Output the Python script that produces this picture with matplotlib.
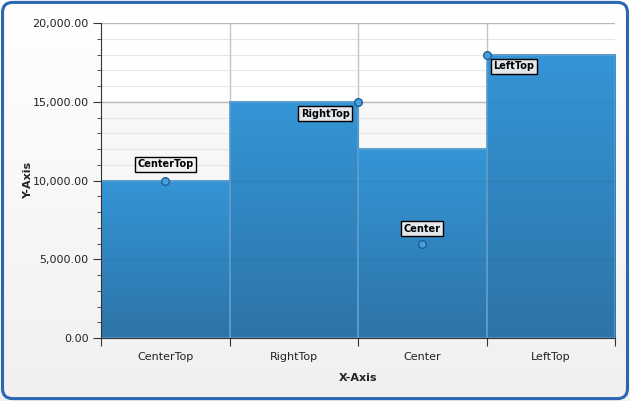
import matplotlib
matplotlib.use("Agg")
import matplotlib.pyplot as plt
import numpy as np
from matplotlib.patches import FancyBboxPatch, Rectangle
from matplotlib.ticker import FuncFormatter, MultipleLocator

categories = ["CenterTop", "RightTop", "Center", "LeftTop"]
values = [10000, 15000, 12000, 18000]
point_x_offsets = [0.5, 1.0, 0.5, 0.0]   # position of marker within each step
point_values = [10000, 15000, 6000, 18000]
point_labels = ["CenterTop", "RightTop", "Center", "LeftTop"]

plt.rcParams['font.family'] = ['DejaVu Sans']
fig = plt.figure(figsize=(6.3, 4.01), dpi=100)

# figure background gradient + rounded border
bg = fig.add_axes([0, 0, 1, 1], zorder=-10)
bg.set_axis_off()
grad = np.linspace(1, 0, 256).reshape(-1, 1)
bg.imshow(grad, extent=[0, 1, 0, 1], aspect='auto', cmap=matplotlib.colors.LinearSegmentedColormap.from_list('g', ['#f0f0f0', '#ffffff']), vmin=0, vmax=1)
bg.set_xlim(0, 1); bg.set_ylim(0, 1)
border = FancyBboxPatch((0.004, 0.006), 0.992, 0.988, boxstyle="round,pad=0,rounding_size=0.016",
                        transform=bg.transAxes, facecolor='none', edgecolor='#2a66b2', linewidth=2.2,
                        mutation_aspect=630/401)
bg.add_patch(border)

ax = fig.add_axes([101/630, 1 - 338/401, (615 - 101)/630, (338 - 23)/401])
ax.set_facecolor('white')
ax.set_xlim(0, len(categories))
ax.set_ylim(0, 20000)

# alternating band
ax.axhspan(10000, 15000, color='#f7f7f7', zorder=0)
ax.axhspan(0, 5000, color='#f7f7f7', zorder=0)
# minor grid
for y in range(1000, 20000, 1000):
    if y % 5000:
        ax.axhline(y, color='#e6e6e6', lw=0.8, zorder=0.5)
for y in range(5000, 20001, 5000):
    ax.axhline(y, color='#c4c4c4', lw=1, zorder=0.6)
    ax.axhline(y, color='black', alpha=0.06, lw=1, zorder=1.4)
for x in range(1, len(categories)):
    ax.axvline(x, color='#c4c4c4', lw=1, zorder=0.6)

cmap = matplotlib.colors.LinearSegmentedColormap.from_list('b', ['#2d74a8', '#3595d6'])
for i, v in enumerate(values):
    g = np.linspace(1, 0, 256).reshape(-1, 1)
    ax.imshow(g, extent=[i, i + 1, 0, v], aspect='auto', cmap=cmap, vmin=0, vmax=1, zorder=1)
    ax.add_patch(Rectangle((i, 0), 1, v, facecolor='none', edgecolor='#5a9ccc', lw=1.2, zorder=1.5))
    ax.plot([i, i + 1], [v, v], color='#5b9dd0', lw=1.2, zorder=1.6)

ax.set_xlim(0, len(categories))
ax.set_ylim(0, 20000)

px = [i + o for i, o in enumerate(point_x_offsets)]
ax.plot(px, point_values, linestyle='none', marker='o', markersize=5.5,
        markerfacecolor='#4aa0dc', markeredgecolor='#1f5f8f', markeredgewidth=1, zorder=5, clip_on=False)

bbox = dict(boxstyle='square,pad=0.25', facecolor='#e4e8ec', edgecolor='black', lw=1)
# label placements
ax.annotate(point_labels[0], (px[0], point_values[0]), xytext=(0, 8), textcoords='offset points',
            ha='center', va='bottom', fontsize=7, fontweight='bold', bbox=dict(bbox, facecolor='#f2f2f2'), zorder=6)
ax.annotate(point_labels[1], (px[1], point_values[1]), xytext=(-6, -5), textcoords='offset points',
            ha='right', va='top', fontsize=7, fontweight='bold', bbox=bbox, zorder=6)
ax.annotate(point_labels[2], (px[2], point_values[2]), xytext=(0, 7), textcoords='offset points',
            ha='center', va='bottom', fontsize=7, fontweight='bold', bbox=bbox, zorder=6)
ax.annotate(point_labels[3], (px[3], point_values[3]), xytext=(5, -5), textcoords='offset points',
            ha='left', va='top', fontsize=7, fontweight='bold', bbox=bbox, zorder=6)

# axes styling
for s in ['top', 'right']:
    ax.spines[s].set_visible(False)
ax.spines['left'].set_color('#333333')
ax.spines['bottom'].set_color('#333333')
ax.spines['left'].set_zorder(7)
ax.spines['bottom'].set_zorder(7)

ax.yaxis.set_major_locator(MultipleLocator(5000))
ax.yaxis.set_minor_locator(MultipleLocator(1000))
ax.yaxis.set_major_formatter(FuncFormatter(lambda v, p: f"{v:,.2f}"))
ax.tick_params(axis='y', which='major', length=6, color='#333333', labelsize=8, labelcolor='#222222', pad=3)
ax.tick_params(axis='y', which='minor', length=3, color='#333333')

ax.set_xticks(range(len(categories) + 1))
ax.set_xticklabels([])
ax.set_xticks([i + 0.5 for i in range(len(categories))], minor=True)
ax.set_xticklabels(categories, minor=True)
ax.tick_params(axis='x', which='major', length=6, color='#333333')
ax.tick_params(axis='x', which='minor', length=0, labelsize=8, labelcolor='#222222', pad=10)

ax.set_xlabel('X-Axis', fontsize=8, fontweight='bold', color='#222222')
ax.set_ylabel('Y-Axis', fontsize=8, fontweight='bold', color='#222222')
ax.xaxis.set_label_coords(0.5, (338 - 378) / 315, transform=ax.transAxes)
ax.yaxis.set_label_coords((28 - 101) / 514, 0.5, transform=ax.transAxes)
ax.xaxis.label.set_va('center')
ax.yaxis.label.set_va('center')

fig.savefig('out.png', dpi=100)
